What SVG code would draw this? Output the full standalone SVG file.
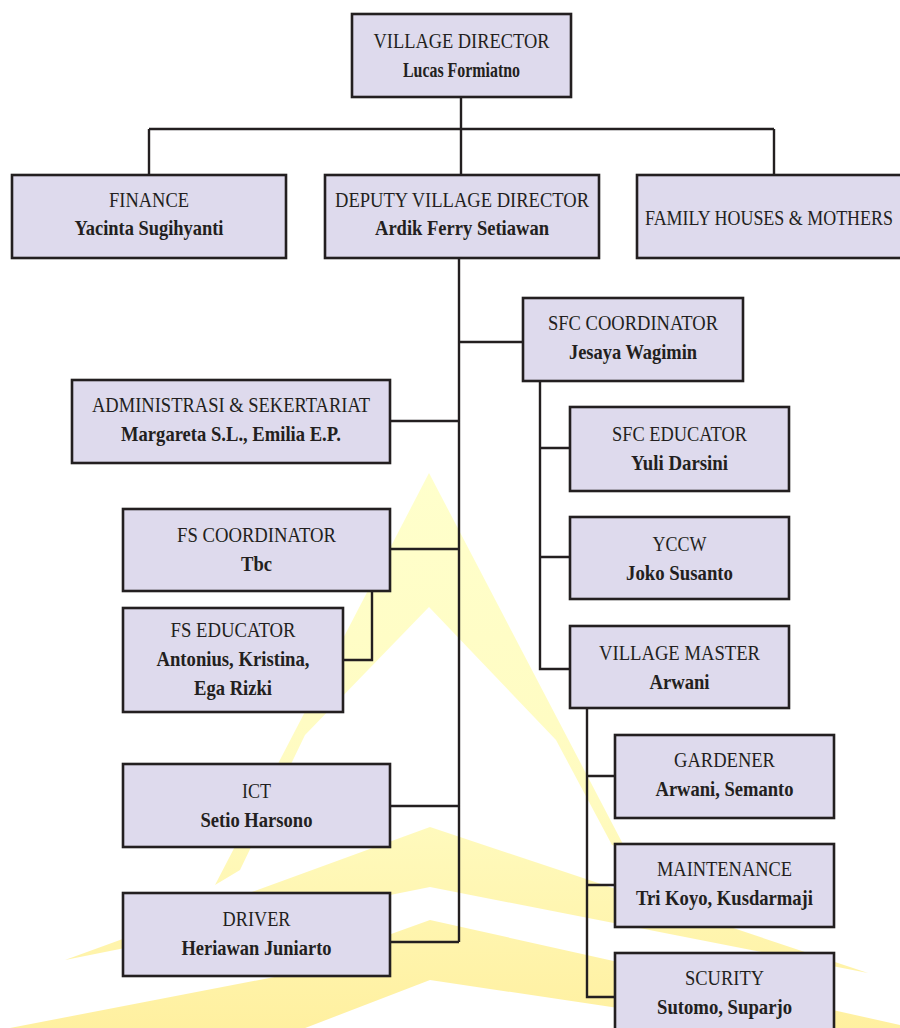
<svg xmlns="http://www.w3.org/2000/svg" width="900" height="1028" viewBox="0 0 900 1028">
<defs>
<linearGradient id="wm" gradientUnits="userSpaceOnUse" x1="0" y1="470" x2="0" y2="1028">
<stop offset="0" stop-color="#ffffcc"/>
<stop offset="0.6" stop-color="#fffbc0"/>
<stop offset="1" stop-color="#fff0a0"/>
</linearGradient>
<style>
.box{fill:#dedaed;stroke:#231f20;stroke-width:2.6}
.t{font-family:"Liberation Serif","Times New Roman",serif;font-size:22px;fill:#231f20;text-anchor:middle}
.n{font-weight:bold}
.c{fill:none;stroke:#231f20;stroke-width:2.4}
.wm{fill:url(#wm)}
</style>
</defs>
<rect width="900" height="1028" fill="#ffffff"/>
<g id="watermark">
<polygon class="wm" points="429,473 215,885 240,870 305,735 429,607"/>
<polygon class="wm" points="429,473 625,848 612,845 556,740 429,607"/>
<polygon class="wm" points="65,960 430,827 868,973 430,887"/>
<polygon class="wm" points="10,1028 300,972 380,938 430,920 900,1025 900,1050 430,980 300,1030"/>
</g>
<g id="connectors">
<path class="c" d="M461,97 V129 M149,129 H774 M149,129 V175 M461,129 V175 M774,129 V175"/>
<path class="c" d="M459,258 V942 M459,342 H523 M390,421 H459 M390,549 H459 M390,806 H459 M390,942 H459"/>
<path class="c" d="M372,591 V660 H343"/>
<path class="c" d="M540,381 V669 H570 M540,448 H570 M540,557 H570"/>
<path class="c" d="M587,708 V997 H615 M587,776 H615 M587,885 H615"/>
</g>
<g id="director">
<rect class="box" x="352" y="14" width="219" height="83"/>
<text class="t" x="461.5" y="48" textLength="176" lengthAdjust="spacingAndGlyphs">VILLAGE DIRECTOR</text>
<text class="t n" x="461.5" y="77" textLength="117" lengthAdjust="spacingAndGlyphs">Lucas Formiatno</text>
</g>
<g id="finance">
<rect class="box" x="12" y="175" width="274" height="83"/>
<text class="t" x="149" y="207" textLength="80" lengthAdjust="spacingAndGlyphs">FINANCE</text>
<text class="t n" x="149" y="235" textLength="149" lengthAdjust="spacingAndGlyphs">Yacinta Sugihyanti</text>
</g>
<g id="deputy">
<rect class="box" x="325" y="175" width="274" height="83"/>
<text class="t" x="462" y="207" textLength="254" lengthAdjust="spacingAndGlyphs">DEPUTY VILLAGE DIRECTOR</text>
<text class="t n" x="462" y="235" textLength="174" lengthAdjust="spacingAndGlyphs">Ardik Ferry Setiawan</text>
</g>
<g id="family">
<rect class="box" x="637" y="175" width="276" height="83"/>
<text class="t" x="769" y="225" textLength="248" lengthAdjust="spacingAndGlyphs">FAMILY HOUSES &amp; MOTHERS</text>
</g>
<g id="sfc-coordinator">
<rect class="box" x="523" y="298" width="220" height="83"/>
<text class="t" x="633" y="330" textLength="170" lengthAdjust="spacingAndGlyphs">SFC COORDINATOR</text>
<text class="t n" x="633" y="359" textLength="128" lengthAdjust="spacingAndGlyphs">Jesaya Wagimin</text>
</g>
<g id="administrasi">
<rect class="box" x="72" y="380" width="318" height="83"/>
<text class="t" x="231" y="412" textLength="278" lengthAdjust="spacingAndGlyphs">ADMINISTRASI &amp; SEKERTARIAT</text>
<text class="t n" x="231" y="441" textLength="220" lengthAdjust="spacingAndGlyphs">Margareta S.L., Emilia E.P.</text>
</g>
<g id="sfc-educator">
<rect class="box" x="570" y="407" width="219" height="84"/>
<text class="t" x="679.5" y="441" textLength="135" lengthAdjust="spacingAndGlyphs">SFC EDUCATOR</text>
<text class="t n" x="679.5" y="470" textLength="97" lengthAdjust="spacingAndGlyphs">Yuli Darsini</text>
</g>
<g id="fs-coordinator">
<rect class="box" x="123" y="509" width="267" height="82"/>
<text class="t" x="256.5" y="542" textLength="159" lengthAdjust="spacingAndGlyphs">FS COORDINATOR</text>
<text class="t n" x="256.5" y="571" textLength="31" lengthAdjust="spacingAndGlyphs">Tbc</text>
</g>
<g id="yccw">
<rect class="box" x="570" y="517" width="219" height="82"/>
<text class="t" x="679.5" y="551" textLength="54" lengthAdjust="spacingAndGlyphs">YCCW</text>
<text class="t n" x="679.5" y="580" textLength="107" lengthAdjust="spacingAndGlyphs">Joko Susanto</text>
</g>
<g id="fs-educator">
<rect class="box" x="123" y="608" width="220" height="104"/>
<text class="t" x="233" y="637" textLength="125" lengthAdjust="spacingAndGlyphs">FS EDUCATOR</text>
<text class="t n" x="233" y="666" textLength="153" lengthAdjust="spacingAndGlyphs">Antonius, Kristina,</text>
<text class="t n" x="233" y="695" textLength="78" lengthAdjust="spacingAndGlyphs">Ega Rizki</text>
</g>
<g id="village-master">
<rect class="box" x="570" y="626" width="219" height="82"/>
<text class="t" x="679.5" y="660" textLength="161" lengthAdjust="spacingAndGlyphs">VILLAGE MASTER</text>
<text class="t n" x="679.5" y="689" textLength="60" lengthAdjust="spacingAndGlyphs">Arwani</text>
</g>
<g id="gardener">
<rect class="box" x="615" y="735" width="219" height="83"/>
<text class="t" x="724.5" y="767" textLength="101" lengthAdjust="spacingAndGlyphs">GARDENER</text>
<text class="t n" x="724.5" y="796" textLength="138" lengthAdjust="spacingAndGlyphs">Arwani, Semanto</text>
</g>
<g id="ict">
<rect class="box" x="123" y="764" width="267" height="83"/>
<text class="t" x="256.5" y="798" textLength="29" lengthAdjust="spacingAndGlyphs">ICT</text>
<text class="t n" x="256.5" y="827" textLength="112" lengthAdjust="spacingAndGlyphs">Setio Harsono</text>
</g>
<g id="maintenance">
<rect class="box" x="615" y="844" width="219" height="83"/>
<text class="t" x="724.5" y="876" textLength="135" lengthAdjust="spacingAndGlyphs">MAINTENANCE</text>
<text class="t n" x="724.5" y="905" textLength="177" lengthAdjust="spacingAndGlyphs">Tri Koyo, Kusdarmaji</text>
</g>
<g id="driver">
<rect class="box" x="123" y="893" width="267" height="83"/>
<text class="t" x="256.5" y="926" textLength="68" lengthAdjust="spacingAndGlyphs">DRIVER</text>
<text class="t n" x="256.5" y="955" textLength="150" lengthAdjust="spacingAndGlyphs">Heriawan Juniarto</text>
</g>
<g id="scurity">
<rect class="box" x="615" y="953" width="219" height="90"/>
<text class="t" x="724.5" y="985" textLength="79" lengthAdjust="spacingAndGlyphs">SCURITY</text>
<text class="t n" x="724.5" y="1014" textLength="135" lengthAdjust="spacingAndGlyphs">Sutomo, Suparjo</text>
</g>
</svg>
